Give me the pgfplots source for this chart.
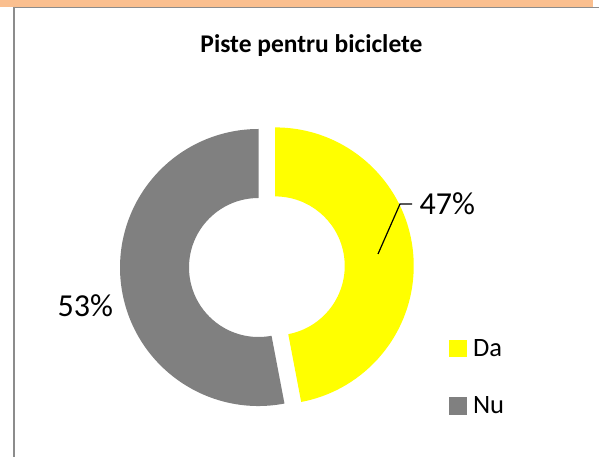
\documentclass[border=0pt]{standalone}
\usepackage{pgfplots}
\pgfplotsset{compat=1.18}
\usepackage{pgfplotstable}
\usepackage{fontspec}
\setmainfont{Carlito}
\definecolor{orangebar}{RGB}{250,191,143}
\definecolor{framegray}{RGB}{140,140,140}
\definecolor{slicegray}{RGB}{128,128,128}
\definecolor{sliceyellow}{RGB}{255,255,0}

\pgfplotstableread{
label value
Da 47
Nu 53
}\piedata

\begin{document}
\begin{tikzpicture}
\pgfplotstablegetelem{0}{value}\of\piedata \pgfmathsetmacro\va{\pgfplotsretval}
\pgfplotstablegetelem{1}{value}\of\piedata \pgfmathsetmacro\vb{\pgfplotsretval}
\pgfmathsetmacro\tot{\va+\vb}
\pgfmathsetmacro\fa{\va/\tot}
\pgfmathsetmacro\fb{\vb/\tot}
\pgfmathsetmacro\aS{90}
\pgfmathsetmacro\aM{90-360*\fa}
\pgfmathsetmacro\aE{-270}
\pgfmathsetmacro\aMid{90-180*\fa}
\pgfmathtruncatemacro\pa{round(100*\fa)}
\pgfmathtruncatemacro\pb{round(100*\fb)}
\def\cx{258.5}
\def\cy{189.5}
\def\Ro{138.5bp}
\def\Ri{69.5bp}
\pgfmathsetmacro\ex{16.8}
\pgfmathsetmacro\ycx{\cx+\ex*cos(\aMid)}
\pgfmathsetmacro\ycy{\cy+\ex*sin(\aMid)}
% frame
\path[use as bounding box] (0bp,0bp) rectangle (599bp,457bp);
\fill[orangebar] (0bp,457bp) rectangle (593bp,450.3bp);
\draw[framegray, line width=1bp] (13bp,449.8bp) -- (599bp,449.8bp);
\draw[framegray, line width=2.6bp] (14bp,450.3bp) -- (14bp,0bp);
\begin{axis}[at={(0bp,0bp)}, anchor=south west, scale only axis,
  width=599bp, height=457bp, xmin=0, xmax=599, ymin=0, ymax=457,
  hide axis, clip=false,
  legend image code/.code={\fill[#1] (0bp,-8.2bp) rectangle (16.5bp,8.3bp);},
  legend style={draw=none, fill=none, inner sep=0pt, at={(axis cs:449,119)}, anchor=north west,
    font=\fontsize{26.5bp}{31bp}\selectfont, row sep=37bp, column sep=6bp, nodes={inner sep=1bp}},
  legend cell align=left,
]
\addlegendimage{sliceyellow}
\addlegendentry{Da}
\addlegendimage{slicegray}
\addlegendentry{Nu}
% donut slices
\fill[sliceyellow] ([shift={(\aS:\Ro)}]axis cs:\ycx,\ycy) arc[start angle=\aS, end angle=\aM, radius=\Ro]
  -- ([shift={(\aM:\Ri)}]axis cs:\ycx,\ycy) arc[start angle=\aM, end angle=\aS, radius=\Ri] -- cycle;
\fill[slicegray] ([shift={(\aM:\Ro)}]axis cs:\cx,\cy) arc[start angle=\aM, end angle=\aE, radius=\Ro]
  -- ([shift={(\aE:\Ri)}]axis cs:\cx,\cy) arc[start angle=\aE, end angle=\aM, radius=\Ri] -- cycle;
% leader line
\addplot[black, line width=1.2bp, forget plot] coordinates {(378,203) (400,253) (412,253)};
% labels
\node[anchor=base west, inner sep=0pt, font=\fontsize{32bp}{38bp}\selectfont] at (axis cs:419.5,242) {\pa\%};
\node[anchor=base west, inner sep=0pt, font=\fontsize{32bp}{38bp}\selectfont] at (axis cs:57.5,140.5) {\pb\%};
% title
\node[anchor=base, inner sep=0pt, font=\fontsize{25.5bp}{30bp}\selectfont\bfseries] at (axis cs:311.5,404) {Piste pentru biciclete};
\end{axis}
\end{tikzpicture}
\end{document}
